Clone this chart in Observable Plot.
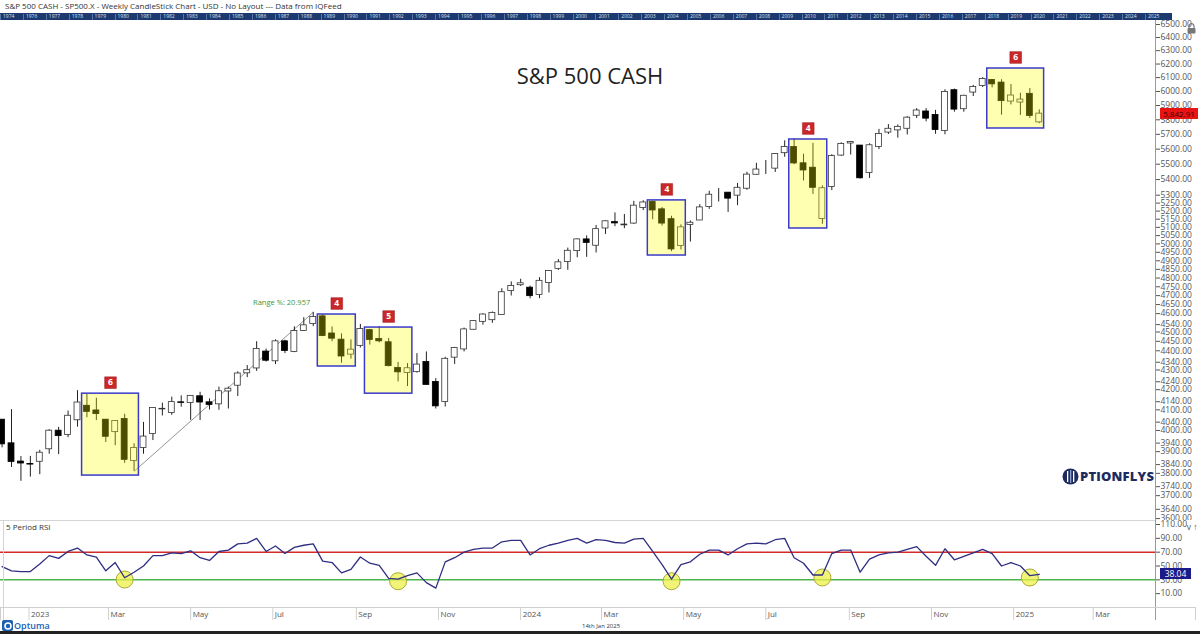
<!DOCTYPE html>
<html><head><meta charset="utf-8">
<script src="https://cdn.jsdelivr.net/npm/d3@7"></script>
<script src="https://cdn.jsdelivr.net/npm/@observablehq/plot@0.6"></script>
<style>
html,body{margin:0;padding:0;background:#fff;}
#page{position:relative;width:1200px;height:634px;overflow:hidden;font-family:"Open Sans",sans-serif;background:#fff;}
</style></head><body><div id="page"></div>
<script>
// ---------------- DATA ----------------
const weeks = ["2022-12-05","2022-12-12","2022-12-19","2022-12-26",
"2023-01-02","2023-01-09","2023-01-16","2023-01-23","2023-01-30","2023-02-06","2023-02-13","2023-02-20","2023-02-27","2023-03-06","2023-03-13","2023-03-20","2023-03-27","2023-04-03","2023-04-10","2023-04-17","2023-04-24","2023-05-01","2023-05-08","2023-05-15","2023-05-22","2023-05-29","2023-06-05","2023-06-12","2023-06-19","2023-06-26","2023-07-03","2023-07-10","2023-07-17","2023-07-24","2023-07-31","2023-08-07","2023-08-14","2023-08-21","2023-08-28","2023-09-04","2023-09-11","2023-09-18","2023-09-25","2023-10-02","2023-10-09","2023-10-16","2023-10-23","2023-10-30","2023-11-06","2023-11-13","2023-11-20","2023-11-27","2023-12-04","2023-12-11","2023-12-18","2023-12-25",
"2024-01-01","2024-01-08","2024-01-15","2024-01-22","2024-01-29","2024-02-05","2024-02-12","2024-02-19","2024-02-26","2024-03-04","2024-03-11","2024-03-18","2024-03-25","2024-04-01","2024-04-08","2024-04-15","2024-04-22","2024-04-29","2024-05-06","2024-05-13","2024-05-20","2024-05-27","2024-06-03","2024-06-10","2024-06-17","2024-06-24","2024-07-01","2024-07-08","2024-07-15","2024-07-22","2024-07-29","2024-08-05","2024-08-12","2024-08-19","2024-08-26","2024-09-02","2024-09-09","2024-09-16","2024-09-23","2024-09-30","2024-10-07","2024-10-14","2024-10-21","2024-10-28","2024-11-04","2024-11-11","2024-11-18","2024-11-25","2024-12-02","2024-12-09","2024-12-16","2024-12-23","2024-12-30",
"2025-01-06","2025-01-13"];

const open = [4052,3939,3854,3843,
3853,3911,3999,3978,4049,4120,4097,4052,3992,4055,3856,3917,3983,4102,4085,4137,4134,4167,4137,4127,4191,4220,4283,4308,4396,4345,4450,4394,4505,4543,4585,4492,4459,4380,4426,4510,4462,4445,4311,4285,4289,4342,4239,4139,4364,4407,4512,4555,4564,4593,4726,4759,
4745,4704,4772,4853,4893,4957,5027,4989,5093,5132,5112,5123,5220,5258,5211,5150,4987,5114,5142,5225,5305,5316,5297,5341,5431,5460,5471,5573,5614,5506,5477,5151,5352,5557,5638,5624,5442,5615,5712,5727,5738,5828,5858,5834,5723,6009,5874,5992,6040,6083,6064,5928,5921,
5983,5782];

const high = [4052,4101,3877,3878,
3906,4004,4015,4094,4195,4177,4157,4052,4048,4078,3937,4039,4111,4133,4163,4169,4170,4187,4154,4213,4213,4291,4323,4448,4409,4458,4456,4528,4578,4607,4594,4527,4490,4458,4541,4514,4528,4465,4339,4333,4385,4394,4256,4366,4418,4521,4561,4599,4609,4739,4778,4793,
4754,4802,4842,4907,4975,5030,5048,5111,5140,5189,5179,5261,5265,5264,5222,5168,5115,5139,5240,5325,5342,5316,5375,5447,5506,5524,5570,5656,5670,5566,5639,5359,5563,5643,5652,5624,5636,5734,5767,5765,5822,5878,5878,5866,6012,6017,5973,6044,6100,6085,6085,6050,5987,
6021,5869];

const low = [3918,3827,3764,3783,
3794,3888,3886,3966,4016,4061,4048,3943,3928,3846,3809,3888,3952,4070,4073,4113,4049,4048,4099,4098,4104,4166,4261,4293,4341,4328,4385,4390,4503,4529,4475,4448,4335,4356,4415,4430,4442,4316,4239,4216,4284,4223,4104,4114,4329,4394,4510,4537,4547,4593,4698,4752,
4682,4683,4715,4844,4845,4918,4920,4946,5057,5104,5092,5118,5203,5146,5108,4954,4964,5011,5142,5211,5257,5192,5234,5331,5428,5433,5446,5546,5497,5391,5305,5119,5329,5552,5561,5403,5407,5597,5699,5674,5696,5809,5786,5700,5697,5853,5853,5964,6028,6026,5832,5904,5830,
5809,5773];

const close = [3934,3852,3845,3840,
3895,3999,3973,4071,4136,4090,4079,3970,4046,3862,3917,3971,4109,4105,4138,4134,4169,4136,4124,4192,4205,4282,4299,4410,4348,4450,4399,4505,4536,4582,4478,4464,4370,4406,4516,4457,4450,4320,4288,4309,4328,4224,4117,4358,4415,4514,4559,4595,4604,4719,4755,4770,
4697,4784,4840,4891,4959,5027,5006,5089,5137,5124,5117,5234,5254,5204,5123,4967,5100,5128,5223,5303,5305,5278,5347,5432,5465,5460,5567,5615,5505,5459,5347,5344,5554,5635,5648,5408,5626,5703,5738,5751,5815,5865,5808,5729,5996,5871,5969,6032,6090,6051,5931,5971,5942,
5827,5842.91];

const rsi5 = [49,43,42,42,
53,65,61,71,76,66,63,43,55,33,41,50,65,65,69,68,72,62,58,71,73,82,83,90,71,79,68,77,80,82,57,55,40,45,63,54,51,32,31,36,40,26,18,56,62,70,74,76,76,85,87,87,
66,75,80,83,87,90,83,88,87,84,83,89,90,71,52,31,52,56,67,73,73,66,75,82,83,82,88,90,62,54,37,37,68,73,73,41,60,66,69,70,74,78,64,51,75,59,64,69,74,68,50,55,50,
36,38.04];

// highlighted count boxes
const boxStart  = ["2023-02-06","2023-07-31","2023-09-04","2024-04-01","2024-07-15","2024-12-09"];
const boxEnd    = ["2023-03-13","2023-08-21","2023-10-02","2024-04-22","2024-08-05","2025-01-13"];
const boxTop    = [4180,4595,4524,5267,5665,6167];
const boxBottom = [3790,4318,4180,4931,5093,5740];
const boxCount  = ["6","4","5","4","4","6"];

// trend line (range measurement)
const rangeFrom = ["2023-03-13", 3808.86];
const rangeTo   = ["2023-07-24", 4607.07];
const rangeText = "Range %: 20.957";

// RSI marker circles
const rsiMarkWeeks  = ["2023-03-06","2023-09-25","2024-04-15","2024-08-05","2025-01-06"];
const rsiMarkValues = [30.5,28,28,33.4,33.4];

const priceTicks = [6500,6400,6300,6200,6100,6000,5900,5800,5700,5600,5500,5400,5300,5250,5200,5150,5100,5050,5000,4950,4900,4850,4800,4750,4700,4650,4600,4540,4500,4450,4400,4340,4300,4240,4200,4140,4100,4040,4000,3940,3900,3840,3800,3740,3700,3640,3600];
const rsiTicks = [110,90,70,50,30,10];
const rsiLevels = [70,30];
const xTickDates  = ["2023-01-01","2023-03-01","2023-05-01","2023-07-01","2023-09-01","2023-11-01","2024-01-01","2024-03-01","2024-05-01","2024-07-01","2024-09-01","2024-11-01","2025-01-01","2025-03-01"];
const xTickLabels = ["2023","Mar","May","Jul","Sep","Nov","2024","Mar","May","Jul","Sep","Nov","2025","Mar"];
const overviewYears = ["1974","1976","1977","1978","1979","1980","1981","1982","1983","1984","1985","1986","1987","1988","1989","1990","1991","1992","1993","1994","1995","1996","1997","1998","1999","2000","2001","2002","2003","2004","2005","2006","2007","2008","2009","2010","2011","2012","2013","2014","2015","2016","2017","2018","2019","2020","2021","2022","2023","2024","2025"];

const lastPrice = 5842.91;
const lastRsi = 38.04;

// ---------------- BUILD ----------------
const day = 864e5;
const barTime = s => new Date(Date.parse(s) + 7 * day); // bar drawn at end of its week
const candles = weeks.map((w, i) => ({t: barTime(w), o: open[i], h: high[i], l: low[i], c: close[i], up: close[i] >= open[i]}));
const rsiData = weeks.map((w, i) => ({t: barTime(w), v: rsi5[i]}));
const boxes = boxStart.map((s, i) => ({
  x1: new Date(+barTime(s) - 3.6 * day), x2: new Date(+barTime(boxEnd[i]) + 3.6 * day),
  top: boxTop[i], bottom: boxBottom[i], label: boxCount[i]
}));
boxes.forEach(b => b.mid = new Date((+b.x1 + +b.x2) / 2));
const trend = [{x1: barTime(rangeFrom[0]), y1: rangeFrom[1], x2: barTime(rangeTo[0]), y2: rangeTo[1], text: rangeText}];
const marks = rsiMarkWeeks.map((w, i) => ({t: barTime(w), v: rsiMarkValues[i]}));
const xTicks = xTickDates.map((d, i) => ({t: new Date(d), label: xTickLabels[i]}));

// x layout
const pxPerDay = 1.347, anchorT = Date.UTC(2022, 11, 19), anchorPx = 11, frameRight = 1155;
const xDomain = [new Date(anchorT - anchorPx / pxPerDay * day), new Date(anchorT + (frameRight - anchorPx) / pxPerDay * day)];
const W = 1200, MR = W - frameRight;
const font = "Open Sans";

const page = document.getElementById("page");
function addDiv(css, html) {
  const d = document.createElement("div");
  d.style.cssText = "position:absolute;" + css;
  if (html != null) d.innerHTML = html;
  page.appendChild(d);
  return d;
}
function place(svg, top) {
  svg.style.position = "absolute";
  svg.style.left = "0px";
  svg.style.top = top + "px";
  page.appendChild(svg);
}

// header
addDiv("left:5px;top:0px;font-size:8px;color:#333;white-space:nowrap;line-height:12px;",
  "S&amp;P 500 CASH - SP500.X - Weekly CandleStick Chart - USD - No Layout --- Data from IQFeed");
const strip = addDiv("left:0;top:13px;width:1172px;height:7px;background:#1d3a70;overflow:hidden;");
overviewYears.forEach((y, i) => {
  const s = document.createElement("span");
  s.textContent = y;
  s.style.cssText = `position:absolute;left:${3 + i * 22.9}px;top:0px;font-size:5px;line-height:7px;color:#d8e0f0;`;
  strip.appendChild(s);
  const sep = document.createElement("span");
  sep.style.cssText = `position:absolute;left:${i * 22.9}px;top:1px;width:1px;height:6px;background:#5a74a6;`;
  strip.appendChild(sep);
});

// main price panel
const main = Plot.plot({
  width: W, height: 500, marginLeft: 0, marginRight: MR, marginTop: 0, marginBottom: 0,
  style: {fontFamily: font, color: "#555", background: "transparent"},
  x: {type: "utc", domain: xDomain, axis: null},
  y: {type: "log", domain: [3591.7, 6531.4], axis: null},
  marks: [
    Plot.axisY(priceTicks, {anchor: "right", tickSize: 4, tickPadding: 1, tickFormat: d => d.toFixed(2), fontSize: 8.5}),
    Plot.link(trend, {x1: "x1", y1: "y1", x2: "x2", y2: "y2", stroke: "#666", strokeWidth: 0.7}),
    Plot.text(trend, {x: "x2", y: "y2", text: "text", textAnchor: "end", dx: -3, dy: -10, fill: "#3c963c", fontSize: 7.5}),
    Plot.ruleX(candles, {x: "t", y1: "l", y2: "h", stroke: "#222", strokeWidth: 1}),
    Plot.rect(candles, {
      x1: d => new Date(+d.t - 2.2 * day), x2: d => new Date(+d.t + 2.2 * day),
      y1: "o", y2: "c",
      fill: d => d.up ? "#ffffff" : "#000000", stroke: d => d.up ? "#333333" : "#000000", strokeWidth: 0.8
    }),
    Plot.rect(boxes, {x1: "x1", x2: "x2", y1: "bottom", y2: "top", fill: "#ffff00", fillOpacity: 0.3, stroke: "#3a3acb", strokeWidth: 1.5}),
    Plot.dot(boxes, {x: "mid", y: "top", dy: -11, symbol: "square", r: 6.6, fill: "#c9282b", stroke: "#a01818", strokeWidth: 0.5}),
    Plot.text(boxes, {x: "mid", y: "top", dy: -11, text: "label", fill: "#fff", fontSize: 8.5, fontWeight: "bold"})
  ]
});
place(main, 20);

// title
addDiv("left:0;width:1180px;top:60px;text-align:center;font-size:22px;color:#222;line-height:30px;", "S&amp;P 500 CASH");

// last price tag
const py = 20 + main.scale("y").apply(lastPrice);
addDiv(`left:1160px;top:${py - 5.5}px;width:38px;height:11px;background:#e81414;color:#3a0000;font-size:8px;line-height:11px;text-align:center;`,
  d3.format(",.2f")(lastPrice));

// axis line
addDiv("left:1155px;top:20px;width:1px;height:600px;background:#9a9a9a;");
// separator
addDiv("left:0;top:520px;width:1155px;height:1px;background:#d4d4d4;");

// RSI panel
const rsiPlot = Plot.plot({
  width: W, height: 87, marginLeft: 0, marginRight: MR, marginTop: 0, marginBottom: 0,
  style: {fontFamily: font, color: "#555", background: "transparent"},
  x: {type: "utc", domain: xDomain, axis: null},
  y: {domain: [-10, 115.8], axis: null},
  marks: [
    Plot.axisY(rsiTicks, {anchor: "right", tickSize: 4, tickPadding: 1, tickFormat: d => d.toFixed(2), fontSize: 8.5}),
    Plot.ruleY(rsiLevels, {stroke: d => d === 70 ? "#d42a2a" : "#4db34d", strokeWidth: 1.5}),
    Plot.dot(marks, {x: "t", y: "v", r: 8.5, fill: "#eef04a", fillOpacity: 0.75, stroke: "#a9ab33", strokeWidth: 1}),
    Plot.line(rsiData, {x: "t", y: "v", stroke: "#2f2e82", strokeWidth: 1.3})
  ]
});
place(rsiPlot, 520);
addDiv("left:6px;top:521px;font-size:8px;color:#333;line-height:12px;", "5 Period RSI");
addDiv("left:3px;top:520px;width:1px;height:100px;background:#d4d4d4;");
const ry = 520 + rsiPlot.scale("y").apply(lastRsi);
addDiv(`left:1160px;top:${ry - 5.5}px;width:31px;height:11px;background:#1a1a8a;color:#fff;font-size:8.5px;line-height:11px;text-align:center;`,
  lastRsi.toFixed(2));

// date strip
const dateStrip = Plot.plot({
  width: W, height: 13, marginLeft: 0, marginRight: MR - 40, marginTop: 0, marginBottom: 0,
  style: {fontFamily: font, background: "transparent"},
  x: {type: "utc", domain: [xDomain[0], new Date(+xDomain[1] + 40 / pxPerDay * day)], axis: null},
  marks: [
    Plot.frame({stroke: "#cfcfcf"}),
    Plot.ruleX(xTicks, {x: "t", stroke: "#cfcfcf"}),
    Plot.text(xTicks, {x: "t", text: "label", frameAnchor: "middle", textAnchor: "start", dx: 2, fontSize: 8, fill: "#555"})
  ]
});
place(dateStrip, 607);

// logos / footer
addDiv("left:1062px;top:467px;display:flex;align-items:center;",
  `<svg width="17" height="17" viewBox="0 0 17 17"><circle cx="8.5" cy="8.5" r="8" fill="#1f2b5e"/><rect x="5" y="3" width="1.3" height="11" fill="#fff"/><rect x="8" y="2" width="1.3" height="13" fill="#8aa0d0"/><rect x="11" y="3" width="1.3" height="11" fill="#fff"/></svg><span style="font-size:13px;font-weight:800;color:#1f2b5e;letter-spacing:0.2px;margin-left:1px;">PTIONFLYS</span>`);
addDiv("left:2px;top:620px;display:flex;align-items:center;",
  `<svg width="11" height="11" viewBox="0 0 11 11"><rect width="11" height="11" rx="2" fill="#1d5fb3"/><circle cx="6" cy="6" r="3" fill="none" stroke="#fff" stroke-width="1.6"/></svg><span style="font-size:9px;font-weight:600;color:#1d5fb3;margin-left:1px;line-height:11px;">Optuma</span>`);
addDiv("left:582px;top:622px;font-size:6px;color:#333;line-height:8px;", "14th Jan 2025");
addDiv("left:0;top:631px;width:1200px;height:3px;background:#222;");
// lock icon
addDiv("left:1187px;top:17px;",
  `<svg width="9" height="11" viewBox="0 0 9 11"><path d="M2 5V3.2a2.5 2.5 0 0 1 5 0V5" fill="none" stroke="#777" stroke-width="1.2"/><rect x="0.5" y="5" width="8" height="5.5" rx="1" fill="#777"/></svg>`);
</script>
</body></html>
